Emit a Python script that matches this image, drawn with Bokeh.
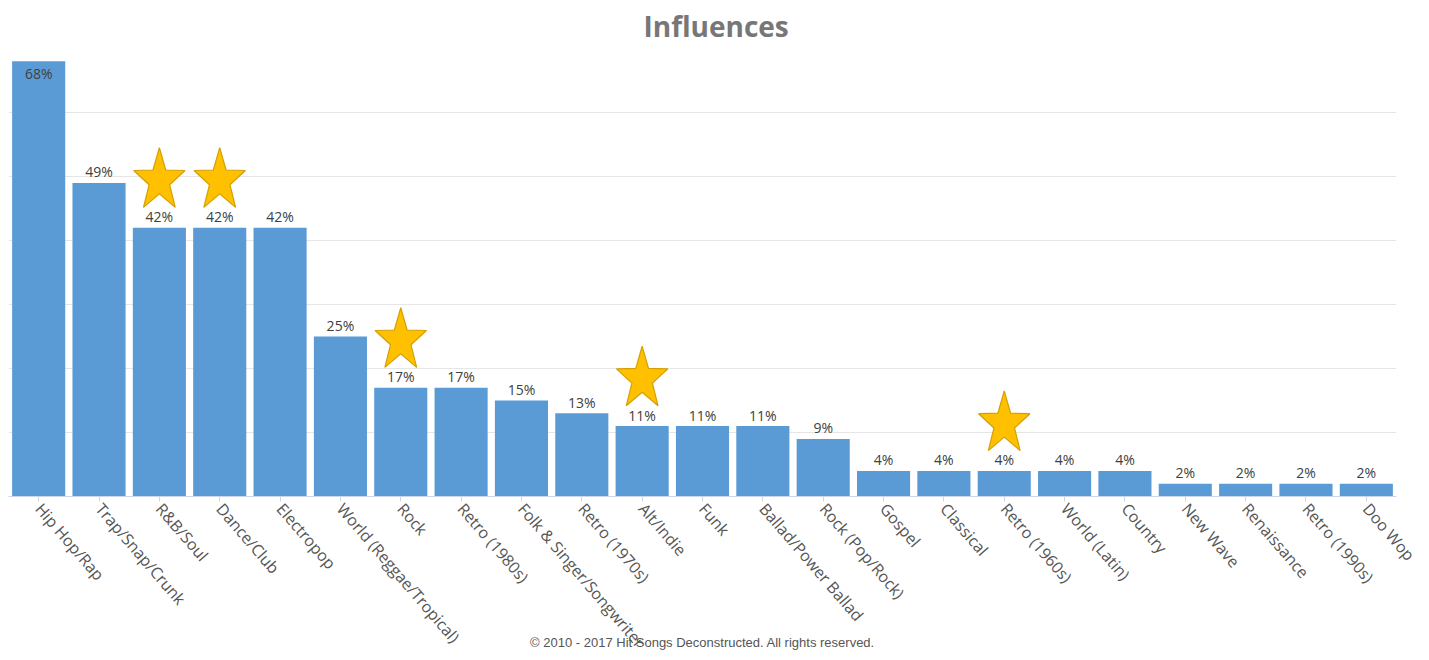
import math
from bokeh.plotting import figure
from bokeh.models import ColumnDataSource, FactorRange, Range1d, FixedTicker
from bokeh.core.properties import value
from bokeh.embed import file_html
from bokeh.resources import INLINE

categories = ["Hip Hop/Rap", "Trap/Snap/Crunk", "R&B/Soul", "Dance/Club", "Electropop",
              "World (Reggae/Tropical)", "Rock", "Retro (1980s)", "Folk & Singer/Songwriter",
              "Retro (1970s)", "Alt/Indie", "Funk", "Ballad/Power Ballad", "Rock (Pop/Rock)",
              "Gospel", "Classical", "Retro (1960s)", "World (Latin)", "Country", "New Wave",
              "Renaissance", "Retro (1990s)", "Doo Wop"]
values = [68, 49, 42, 42, 42, 25, 17, 17, 15, 13, 11, 11, 11, 9, 4, 4, 4, 4, 4, 2, 2, 2, 2]
starred = ["R&B/Soul", "Dance/Club", "Rock", "Alt/Indie", "Retro (1960s)"]
y_ticks = [10, 20, 30, 40, 50, 60, 70]

Y_MAX = 70
FRAME_W = 1388
FRAME_H = 448
py_per_unit = FRAME_H / Y_MAX
px_per_cat = FRAME_W / len(categories)

labels = [f"{v}%" for v in values]
inside = [v > Y_MAX - 5 for v in values]
offs = [12 if i else -11 for i in inside]
src = ColumnDataSource(dict(cat=categories, val=values, lab=labels, off=offs))

# star outlines (slightly tall five-point stars) above the marked bars
RX, RY, INNER, LIFT = 27.0, 33.0, 0.40, 47.0
xs, ys = [], []
for c in starred:
    i = categories.index(c)
    cx = i + 0.5
    cy = values[i] + LIFT / py_per_unit
    px, py = [], []
    for k in range(10):
        ang = math.pi / 2 + k * math.pi / 5
        r = 1.0 if k % 2 == 0 else INNER
        px.append(cx + r * RX * math.cos(ang) / px_per_cat)
        py.append(cy + r * RY * math.sin(ang) / py_per_unit)
    xs.append(px)
    ys.append(py)
star_src = ColumnDataSource(dict(xs=xs, ys=ys))

p = figure(x_range=FactorRange(*categories, range_padding=0), y_range=Range1d(0, Y_MAX),
           frame_width=FRAME_W, frame_height=FRAME_H,
           output_backend="svg", toolbar_location=None, title="Influences",
           min_border_left=8, min_border_right=25, min_border_top=48, min_border_bottom=160)

p.title.align = "left"
p.title.offset = 635
p.title.standoff = 8
p.title.text_font = "Open Sans"
p.title.text_font_size = "28px"
p.title.text_font_style = "bold"
p.title.text_color = "#777777"

p.outline_line_color = None
p.background_fill_color = "white"
p.border_fill_color = "white"

p.vbar(x="cat", top="val", width=0.88, source=src, fill_color="#5B9BD5", line_color=None)

p.text(x="cat", y="val", text="lab", source=src, y_offset="off",
       text_align="center", text_baseline="middle",
       text_font=value("Open Sans"), text_font_size="14px", text_color="#404040")

p.patches(xs="xs", ys="ys", source=star_src,
          fill_color="#FFC000", line_color="#D49F00", line_width=1.2)

p.yaxis.visible = False
p.ygrid.ticker = FixedTicker(ticks=y_ticks)
p.ygrid.grid_line_color = "#e6e6e6"
p.xgrid.grid_line_color = None

xa = p.xaxis[0]
xa.axis_line_color = "#ccd6eb"
xa.major_tick_line_color = "#ccd6eb"
xa.major_tick_out = 5
xa.major_tick_in = 0
xa.minor_tick_line_color = None
xa.major_label_orientation = -0.86
xa.major_label_standoff = 4
xa.major_label_text_font = "Open Sans"
xa.major_label_text_font_size = "16px"
xa.major_label_text_color = "#555555"

xa.axis_label = "© 2010 - 2017 Hit Songs Deconstructed. All rights reserved."
xa.axis_label_text_font = "Liberation Sans"
xa.axis_label_text_font_size = "13px"
xa.axis_label_text_font_style = "normal"
xa.axis_label_text_color = "#555555"
xa.axis_label_standoff = -27

open("out.html", "w").write(file_html(p, INLINE))
